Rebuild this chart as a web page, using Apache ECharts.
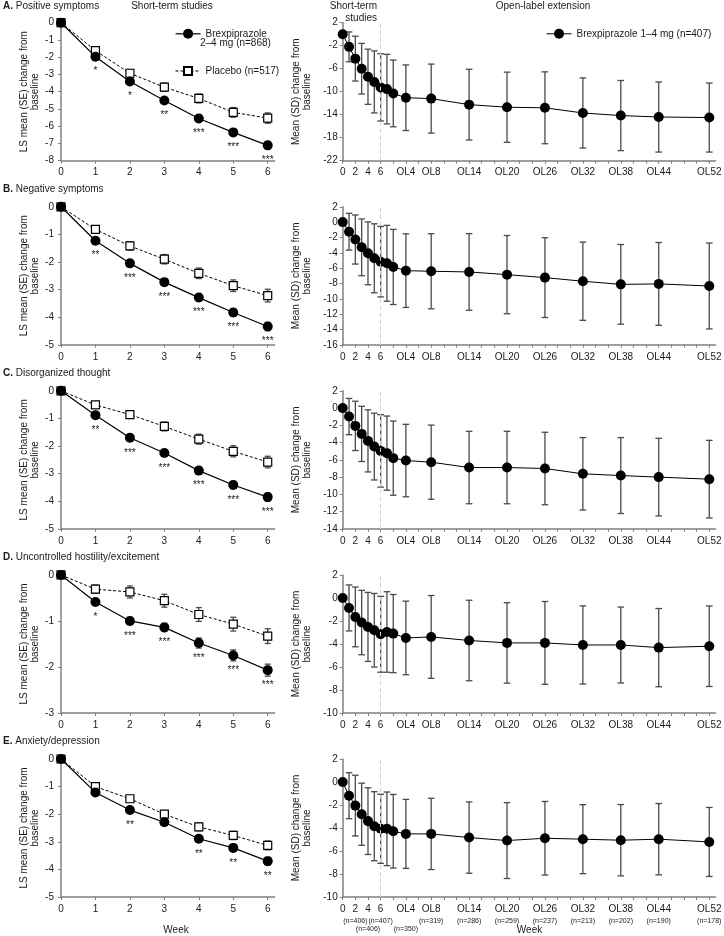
<!DOCTYPE html>
<html>
<head>
<meta charset="utf-8">
<script src="https://cdn.jsdelivr.net/npm/echarts@6/dist/echarts.min.js"></script>
<style>
  html, body { margin: 0; padding: 0; background: #fff; }
  #chart { width: 724px; height: 936px; }
</style>
</head>
<body>
<div id="chart"></div>
<script>
const FONT = '"Liberation Sans", Arial, sans-serif'
const INK = '#1a1a1a'
const AXIS = '#808080'
const BAR = '#4a4a4a'

const brexShortName = 'Brexpiprazole 2–4 mg (n=868)'
const pboName = 'Placebo (n=517)'
const brexExtName = 'Brexpiprazole 1–4 mg (n=407)'

const panelLetters = ['A.', 'B.', 'C.', 'D.', 'E.']
const panelNames = ['Positive symptoms', 'Negative symptoms', 'Disorganized thought', 'Uncontrolled hostility/excitement', 'Anxiety/depression']

// short-term studies (left column)
const weeks = [0, 1, 2, 3, 4, 5, 6]
const leftTicks = [
  [0, -1, -2, -3, -4, -5, -6, -7, -8],
  [0, -1, -2, -3, -4, -5],
  [0, -1, -2, -3, -4, -5],
  [0, -1, -2, -3],
  [0, -1, -2, -3, -4, -5],
]
const brexA = [0, -1.97, -3.41, -4.51, -5.55, -6.36, -7.11]
const brexSeA = [0, 0.15, 0.16, 0.17, 0.18, 0.19, 0.2]
const pboA = [0, -1.62, -2.93, -3.74, -4.39, -5.2, -5.53]
const pboSeA = [0, 0.2, 0.22, 0.24, 0.26, 0.28, 0.3]
const sigA = ['', '*', '*', '**', '***', '***', '***']

const brexB = [0, -1.23, -2.05, -2.73, -3.29, -3.83, -4.34]
const brexSeB = [0, 0.1, 0.11, 0.12, 0.13, 0.14, 0.15]
const pboB = [0, -0.82, -1.42, -1.9, -2.41, -2.86, -3.22]
const pboSeB = [0, 0.13, 0.15, 0.17, 0.19, 0.21, 0.23]
const sigB = ['', '**', '***', '***', '***', '***', '***']

const brexC = [0, -0.88, -1.7, -2.25, -2.89, -3.41, -3.85]
const brexSeC = [0, 0.09, 0.1, 0.11, 0.12, 0.13, 0.14]
const pboC = [0, -0.51, -0.86, -1.29, -1.75, -2.19, -2.58]
const pboSeC = [0, 0.12, 0.14, 0.16, 0.18, 0.2, 0.21]
const sigC = ['', '**', '***', '***', '***', '***', '***']

const brexD = [0, -0.59, -1.0, -1.14, -1.48, -1.75, -2.07]
const brexSeD = [0, 0.07, 0.08, 0.09, 0.11, 0.12, 0.13]
const pboD = [0, -0.31, -0.37, -0.56, -0.86, -1.07, -1.33]
const pboSeD = [0, 0.09, 0.13, 0.14, 0.15, 0.15, 0.16]
const sigD = ['', '*', '***', '***', '***', '***', '***']

const brexE = [0, -1.21, -1.85, -2.29, -2.89, -3.22, -3.7]
const brexSeE = [0, 0.09, 0.1, 0.11, 0.12, 0.13, 0.14]
const pboE = [0, -1.0, -1.44, -2.0, -2.46, -2.77, -3.13]
const pboSeE = [0, 0.11, 0.12, 0.13, 0.14, 0.15, 0.16]
const sigE = ['', '', '**', '', '**', '**', '**']

// open-label extension (right column)
const extWeeks = [0, 1, 2, 3, 4, 5, 6, 7, 8, 10, 14, 20, 26, 32, 38, 44, 50, 58]
const extLabelWeeks = [0, 2, 4, 6, 10, 14, 20, 26, 32, 38, 44, 50, 58]
const extAxisLabels = ['0', '2', '4', '6', 'OL4', 'OL8', 'OL14', 'OL20', 'OL26', 'OL32', 'OL38', 'OL44', 'OL52']
const extTickWeeks = [0, 2, 4, 6, 8, 10, 12, 14, 16, 18, 20, 22, 24, 26, 28, 30, 32, 34, 36, 38, 40, 42, 44, 46, 48, 50, 52, 54, 56, 58]
const extSampleN = ['', '(n=406)', '(n=406)', '(n=407)', '(n=350)', '(n=319)', '(n=286)', '(n=259)', '(n=237)', '(n=213)', '(n=202)', '(n=190)', '(n=178)']
const extSampleRow = [0, 1, 2, 1, 2, 1, 1, 1, 1, 1, 1, 1, 1]
const rightTicks = [
  [2, -2, -6, -10, -14, -18, -22],
  [2, 0, -2, -4, -6, -8, -10, -12, -14, -16],
  [2, 0, -2, -4, -6, -8, -10, -12, -14],
  [2, 0, -2, -4, -6, -8, -10],
  [2, 0, -2, -4, -6, -8, -10],
]
const extMeanA = [0, -2.2, -4.25, -6.0, -7.4, -8.3, -9.25, -9.55, -10.3, -11.05, -11.2, -12.25, -12.7, -12.8, -13.7, -14.15, -14.4, -14.5]
const extSdA = [0, 2.6, 3.9, 4.4, 4.8, 5.4, 5.85, 6.05, 5.8, 5.7, 6.0, 6.15, 6.1, 6.25, 6.1, 6.1, 6.1, 6.0]
const extMeanB = [0, -1.25, -2.27, -3.29, -4.07, -4.72, -5.16, -5.37, -5.85, -6.33, -6.41, -6.5, -6.85, -7.24, -7.71, -8.12, -8.06, -8.33]
const extSdB = [0, 2.4, 3.2, 3.7, 4.1, 4.5, 4.6, 4.95, 4.9, 4.8, 4.9, 5.0, 5.1, 5.2, 5.1, 5.2, 5.4, 5.6]
const extMeanC = [0, -0.98, -2.06, -2.99, -3.8, -4.46, -4.96, -5.22, -5.8, -6.08, -6.27, -6.89, -6.89, -7.0, -7.62, -7.82, -8.0, -8.24]
const extSdC = [0, 2.1, 2.86, 3.2, 3.6, 3.87, 4.2, 4.3, 4.3, 4.2, 4.3, 4.2, 4.2, 4.2, 4.2, 4.4, 4.5, 4.5]
const extMeanD = [0, -0.87, -1.65, -2.14, -2.52, -2.81, -3.16, -2.96, -3.1, -3.48, -3.39, -3.7, -3.91, -3.91, -4.09, -4.09, -4.32, -4.2]
const extSdD = [0, 2.0, 2.6, 2.8, 3.0, 3.2, 3.3, 3.5, 3.4, 3.2, 3.6, 3.5, 3.5, 3.6, 3.4, 3.3, 3.4, 3.5]
const extMeanE = [0, -1.19, -2.05, -2.8, -3.4, -3.84, -4.07, -4.07, -4.28, -4.51, -4.51, -4.83, -5.09, -4.89, -4.97, -5.06, -4.97, -5.21]
const extSdE = [0, 2.0, 2.64, 2.7, 2.9, 3.0, 3.0, 3.2, 3.2, 3.0, 3.1, 3.1, 3.3, 3.2, 3.0, 3.1, 3.1, 3.0]

const brexMeans = [brexA, brexB, brexC, brexD, brexE]
const brexSes = [brexSeA, brexSeB, brexSeC, brexSeD, brexSeE]
const pboMeans = [pboA, pboB, pboC, pboD, pboE]
const pboSes = [pboSeA, pboSeB, pboSeC, pboSeD, pboSeE]
const sigs = [sigA, sigB, sigC, sigD, sigE]
const extMeans = [extMeanA, extMeanB, extMeanC, extMeanD, extMeanE]
const extSds = [extSdA, extSdB, extSdC, extSdD, extSdE]

// error bars drawn through the axes
const errorBars = (cap) => (params, api) => {
  const x = api.value(0)
  const lo = api.value(1)
  const hi = api.value(2)
  if (hi === lo) return null
  const top = api.coord([x, hi])
  const bot = api.coord([x, lo])
  const style = { stroke: BAR, lineWidth: 1.3 }
  return {
    type: 'group',
    children: [
      { type: 'line', shape: { x1: top[0], y1: top[1], x2: bot[0], y2: bot[1] }, style },
      { type: 'line', shape: { x1: top[0] - cap, y1: top[1], x2: top[0] + cap, y2: top[1] }, style },
      { type: 'line', shape: { x1: bot[0] - cap, y1: bot[1], x2: bot[0] + cap, y2: bot[1] }, style },
    ],
  }
}

const grids = []
const xAxes = []
const yAxes = []
const series = []
const graphics = []

const axisLine = { show: true, onZero: false, lineStyle: { color: AXIS, width: 1.5 } }

for (let i = 0; i < 5; i++) {
  const top = 22.7 + 184.08 * i
  const L = 2 * i
  const R = 2 * i + 1
  grids.push({ left: 61, top, width: 213.6, height: 138, outerBoundsMode: 'none' })
  grids.push({ left: 342.7, top, width: 372.9, height: 138, outerBoundsMode: 'none' })

  // left column axes
  xAxes.push({
    gridIndex: L, type: 'value', min: 0, max: 6.2,
    axisLine,
    axisTick: { show: true, length: 3, customValues: weeks, lineStyle: { color: AXIS } },
    axisLabel: { customValues: weeks, fontSize: 10, color: INK, margin: 5, lineHeight: 14, showMinLabel: true, showMaxLabel: true },
    splitLine: { show: false },
  })
  const lt = leftTicks[i]
  yAxes.push({
    gridIndex: L, type: 'value', min: Math.min(...lt), max: Math.max(...lt),
    name: 'LS mean (SE) change from\nbaseline', nameLocation: 'middle', nameGap: 21,
    nameTextStyle: { fontSize: 10, color: INK, lineHeight: 10.5 },
    axisLine,
    axisTick: { show: true, length: 3, customValues: lt, lineStyle: { color: AXIS } },
    axisLabel: { customValues: lt, fontSize: 10, color: INK, margin: 7, showMinLabel: true, showMaxLabel: true },
    splitLine: { show: false },
  })

  // right column axes
  xAxes.push({
    gridIndex: R, type: 'value', min: 0, max: 59,
    axisLine,
    axisTick: { show: true, length: 3, customValues: extTickWeeks, lineStyle: { color: AXIS } },
    axisLabel: {
      customValues: extLabelWeeks, margin: 5, color: INK, fontSize: 10, lineHeight: 14,
      showMinLabel: true, showMaxLabel: true,
      formatter: (v) => extAxisLabels[extLabelWeeks.indexOf(v)],
    },
    splitLine: { show: false },
  })
  const rt = rightTicks[i]
  yAxes.push({
    gridIndex: R, type: 'value', min: Math.min(...rt), max: Math.max(...rt),
    name: 'Mean (SD) change from\nbaseline', nameLocation: 'middle', nameGap: 29,
    nameTextStyle: { fontSize: 10, color: INK, lineHeight: 10.5 },
    axisLine,
    axisTick: { show: true, length: 3, customValues: rt, lineStyle: { color: AXIS } },
    axisLabel: { customValues: rt, fontSize: 10, color: INK, margin: 5, showMinLabel: true, showMaxLabel: true },
    splitLine: { show: false },
  })

  // left column series
  const bm = brexMeans[i], bs = brexSes[i], pm = pboMeans[i], ps = pboSes[i], sg = sigs[i]
  series.push({
    type: 'custom', xAxisIndex: L, yAxisIndex: L, z: 1, silent: true,
    renderItem: errorBars(3),
    data: weeks.map((w, k) => [w, pm[k] - ps[k], pm[k] + ps[k]]),
  })
  series.push({
    type: 'custom', xAxisIndex: L, yAxisIndex: L, z: 1, silent: true,
    renderItem: errorBars(3),
    data: weeks.map((w, k) => [w, bm[k] - bs[k], bm[k] + bs[k]]),
  })
  series.push({
    type: 'line', name: pboName, xAxisIndex: L, yAxisIndex: L, z: 3, clip: false,
    data: weeks.map((w, k) => [w, pm[k]]),
    symbol: 'rect', symbolSize: 8,
    itemStyle: { color: '#fff', borderColor: '#000', borderWidth: 1.2 },
    lineStyle: { color: '#000', width: 1, type: [3, 2] },
  })
  series.push({
    type: 'line', name: brexShortName, xAxisIndex: L, yAxisIndex: L, z: 4, clip: false,
    data: weeks.map((w, k) => [w, bm[k]]),
    symbol: 'circle', symbolSize: 10,
    itemStyle: { color: '#000' },
    lineStyle: { color: '#000', width: 1.2 },
    label: {
      show: true, position: 'bottom', distance: 5, fontSize: 10, color: INK,
      formatter: (p) => sg[p.dataIndex],
    },
  })

  // right column series
  const em = extMeans[i], es = extSds[i]
  series.push({
    type: 'custom', xAxisIndex: R, yAxisIndex: R, z: 1, silent: true,
    renderItem: errorBars(3.3),
    data: extWeeks.map((w, k) => [w, em[k] - es[k], em[k] + es[k]]),
  })
  series.push({
    type: 'line', name: brexExtName, xAxisIndex: R, yAxisIndex: R, z: 4, clip: false,
    data: extWeeks.map((w, k) => [w, em[k]]),
    symbol: 'circle', symbolSize: 10,
    itemStyle: { color: '#000' },
    lineStyle: { color: '#000', width: 1 },
    markLine: {
      silent: true, symbol: 'none', label: { show: false },
      lineStyle: { color: '#cfcfcf', type: [4, 3], width: 1 },
      data: [{ xAxis: 6 }],
    },
  })

  // panel title
  graphics.push({
    type: 'text', x: 3, y: 6 + 183.7 * i,
    style: {
      text: '{b|' + panelLetters[i] + '} ' + panelNames[i],
      rich: { b: { fontWeight: 'bold', fontSize: 10, fontFamily: FONT, fill: INK } },
      fontSize: 10, fontFamily: FONT, fill: INK, verticalAlign: 'middle',
    },
  })
}

graphics.push(
  { type: 'text', x: 172, y: 6, style: { text: 'Short-term studies', fontSize: 10, fontFamily: FONT, fill: INK, align: 'center', verticalAlign: 'middle' } },
  { type: 'text', x: 377, y: 12.2, style: { text: 'Short-term\nstudies', fontSize: 10, lineHeight: 12.3, fontFamily: FONT, fill: INK, align: 'right', verticalAlign: 'middle' } },
  { type: 'text', x: 543, y: 6, style: { text: 'Open-label extension', fontSize: 10, fontFamily: FONT, fill: INK, align: 'center', verticalAlign: 'middle' } },
  { type: 'text', x: 200, y: 43, style: { text: '2–4 mg (n=868)', fontSize: 10, fontFamily: FONT, fill: INK, verticalAlign: 'middle' } },
  { type: 'text', x: 176, y: 930, style: { text: 'Week', fontSize: 10, fontFamily: FONT, fill: INK, align: 'center', verticalAlign: 'middle' } },
  { type: 'text', x: 529.5, y: 930, style: { text: 'Week', fontSize: 10, fontFamily: FONT, fill: INK, align: 'center', verticalAlign: 'middle' } }
)

const legendText = { fontSize: 10, color: INK, fontFamily: FONT }
const chart = echarts.init(document.getElementById('chart'), null, { renderer: 'canvas' })
chart.setOption({
  animation: false,
  backgroundColor: '#fff',
  textStyle: { fontFamily: FONT },
  legend: [
    {
      data: [brexShortName], left: 170, top: 23.8,
      itemWidth: 25, itemHeight: 12.5, selectedMode: false,
      lineStyle: { width: 1.2 },
      formatter: () => 'Brexpiprazole',
      textStyle: legendText,
    },
    {
      data: [pboName], left: 170, top: 61,
      itemWidth: 25, itemHeight: 10, selectedMode: false,
      lineStyle: { width: 1 },
      textStyle: legendText,
    },
    {
      data: [brexExtName], left: 541, top: 23.8,
      itemWidth: 25, itemHeight: 12.5, selectedMode: false,
      lineStyle: { width: 1 },
      textStyle: legendText,
    },
  ],
  grid: grids,
  xAxis: xAxes,
  yAxis: yAxes,
  series,
  graphic: graphics,
})

// sample sizes under the bottom-right axis, placed through that axis' scale
const yBottom = Math.min(...rightTicks[4])
extLabelWeeks.forEach((w, k) => {
  if (!extSampleN[k]) return
  const p = chart.convertToPixel({ xAxisIndex: 9, yAxisIndex: 9 }, [w, yBottom])
  graphics.push({
    type: 'text', x: p[0], y: p[1] + (extSampleRow[k] === 2 ? 32.3 : 24),
    style: { text: extSampleN[k], fontSize: 7, fontFamily: FONT, fill: INK, align: 'center', verticalAlign: 'middle' },
  })
})
chart.setOption({ graphic: graphics })
</script>
</body>
</html>
